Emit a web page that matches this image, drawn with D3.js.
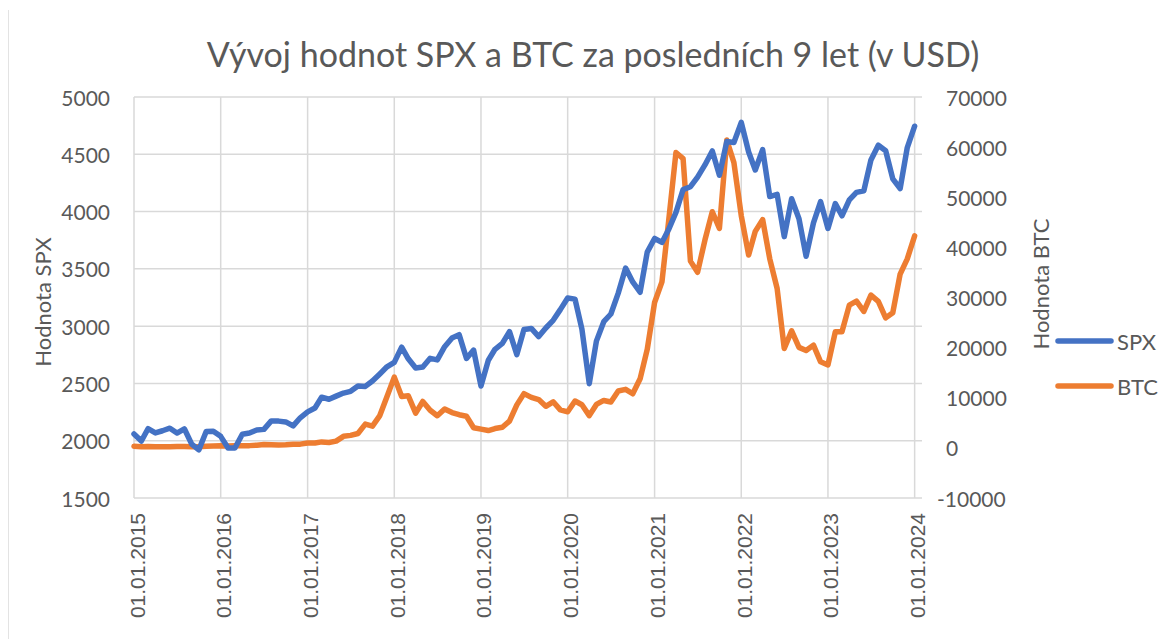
<!DOCTYPE html>
<html>
<head>
<meta charset="utf-8">
<script src="https://cdn.jsdelivr.net/npm/d3@7"></script>
<style>
  html, body { margin: 0; padding: 0; background: #fff; }
  svg { display: block; }
</style>
</head>
<body>
<svg id="chart" width="1168" height="639"></svg>
<script>
// ---------- DATA ----------
const title = "Vývoj hodnot SPX a BTC za posledních 9 let (v USD)";
const seriesNames = ["SPX", "BTC"];
const leftAxisTitle = "Hodnota SPX";
const rightAxisTitle = "Hodnota BTC";
const startMonth = "2015-01-01";
const endMonth = "2024-01-01";
const xTickLabels = ["01.01.2015","01.01.2016","01.01.2017","01.01.2018","01.01.2019","01.01.2020","01.01.2021","01.01.2022","01.01.2023","01.01.2024"];
const leftTicks = [1500, 2000, 2500, 3000, 3500, 4000, 4500, 5000];
const rightTicks = [-10000, 0, 10000, 20000, 30000, 40000, 50000, 60000, 70000];

// monthly values, Jan 2015 .. Jan 2024
const spx = [
  2059, 1997, 2105, 2068, 2087, 2109, 2067, 2104, 1970, 1920, 2081, 2083,
  2038, 1937, 1937, 2057, 2067, 2094, 2099, 2173, 2171, 2164, 2129, 2200,
  2252, 2286, 2380, 2362, 2389, 2416, 2431, 2477, 2474, 2521, 2583, 2645,
  2684, 2817, 2715, 2634, 2643, 2719, 2705, 2821, 2897, 2926, 2718, 2791,
  2477, 2702, 2798, 2849, 2952, 2752, 2971, 2980, 2909, 2984, 3051, 3144,
  3245, 3236, 2974, 2498, 2869, 3039, 3106, 3288, 3507, 3386, 3296, 3646,
  3765, 3731, 3843, 3993, 4192, 4217, 4301, 4407, 4529, 4317, 4611, 4603,
  4778, 4520, 4363, 4540, 4131, 4150, 3781, 4112, 3937, 3610, 3902, 4087,
  3853, 4070, 3963, 4102, 4167, 4181, 4451, 4579, 4531, 4285, 4201, 4559,
  4745
];
const btc = [
  320, 217, 254, 244, 236, 230, 264, 284, 230, 237, 314, 378,
  430, 369, 437, 417, 448, 531, 673, 624, 573, 609, 701, 746,
  964, 971, 1190, 1081, 1348, 2301, 2493, 2872, 4736, 4341, 6441, 10198,
  14112, 10238, 10385, 6926, 9251, 7500, 6411, 7769, 7044, 6619, 6318, 4024,
  3747, 3460, 3853, 4105, 5350, 8573, 10818, 10077, 9630, 8299, 9193, 7569,
  7194, 9350, 8599, 6438, 8672, 9463, 9145, 11351, 11679, 10796, 13781, 19633,
  28995, 33115, 45159, 58926, 57715, 37254, 35035, 41461, 47100, 43791, 61421, 56907,
  46312, 38482, 43194, 45539, 37714, 31792, 19820, 23336, 20050, 19431, 20495, 17168,
  16548, 23150, 23150, 28478, 29268, 27218, 30472, 29230, 25931, 26969, 34667, 37718,
  42280
];

// ---------- CHART ----------
const colors = { SPX: "#4472C4", BTC: "#ED7D31" };
const textColor = "#595959";
const gridColor = "#D9D9D9";

const svg = d3.select("#chart");
const parse = d3.utcParse("%Y-%m-%d");
const months = d3.utcMonth.range(parse(startMonth), d3.utcMonth.offset(parse(endMonth), 1));
const tickDates = d3.utcYear.range(parse(startMonth), d3.utcMonth.offset(parse(endMonth), 1));

const plot = { left: 134, right: 922, top: 97, bottom: 498 };

const x = d3.scaleUtc()
  .domain([parse(startMonth), d3.utcMonth.offset(parse(endMonth), 1)])
  .range([plot.left, plot.right]);
const yL = d3.scaleLinear().domain([1500, 5000]).range([plot.bottom, plot.top]);
const yR = d3.scaleLinear().domain([-10000, 70000]).range([plot.bottom, plot.top]);

// chart-area border (left edge visible in reference)
svg.append("line").attr("x1", 8.5).attr("x2", 8.5).attr("y1", 10).attr("y2", 639)
  .attr("stroke", "#E3E3E3").attr("stroke-width", 1);

// horizontal gridlines
svg.append("g").selectAll("line").data(leftTicks).join("line")
  .attr("x1", plot.left).attr("x2", plot.right)
  .attr("y1", d => yL(d)).attr("y2", d => yL(d))
  .attr("stroke", gridColor).attr("stroke-width", 1.5);

// vertical gridlines
svg.append("g").selectAll("line").data(tickDates).join("line")
  .attr("x1", d => x(d)).attr("x2", d => x(d))
  .attr("y1", plot.top).attr("y2", plot.bottom)
  .attr("stroke", gridColor).attr("stroke-width", 1.5);

// left axis labels
svg.append("g").selectAll("text").data(leftTicks).join("text")
  .attr("x", 110).attr("y", d => yL(d))
  .attr("text-anchor", "end").attr("dominant-baseline", "central")
  .attr("font-family", "Lato, 'Open Sans', sans-serif").attr("font-size", 21)
  .attr("fill", textColor)
  .text(d => d);

// right axis labels (digits left-aligned, minus hanging left)
const rg = svg.append("g");
rg.selectAll("text").data(rightTicks).join("text")
  .attr("x", 946).attr("y", d => yR(d))
  .attr("text-anchor", "start").attr("dominant-baseline", "central")
  .attr("font-family", "Lato, 'Open Sans', sans-serif").attr("font-size", 21)
  .attr("fill", textColor)
  .text(d => d)
  .each(function(d) {
    if (d < 0) d3.select(this).attr("x", 946 - 9);
  });

// x axis labels
svg.append("g").selectAll("text").data(tickDates).join("text")
  .attr("transform", (d) => `translate(${x(d) + 3},513) rotate(-90)`)
  .attr("text-anchor", "end").attr("dominant-baseline", "central")
  .attr("font-family", "'Liberation Sans', Arial, sans-serif").attr("font-size", 21)
  .attr("fill", textColor)
  .text((d, i) => xTickLabels[i]);

// axis titles
svg.append("text")
  .attr("transform", "translate(42,302) rotate(-90)")
  .attr("text-anchor", "middle").attr("dominant-baseline", "central")
  .attr("font-family", "Lato, 'Open Sans', sans-serif").attr("font-size", 22)
  .attr("fill", textColor).text(leftAxisTitle);
svg.append("text")
  .attr("transform", "translate(1040,284) rotate(-90)")
  .attr("text-anchor", "middle").attr("dominant-baseline", "central")
  .attr("font-family", "Lato, 'Open Sans', sans-serif").attr("font-size", 22)
  .attr("fill", textColor).text(rightAxisTitle);

// title
svg.append("text")
  .attr("x", 593).attr("y", 67)
  .attr("text-anchor", "middle")
  .attr("font-family", "Lato, 'Open Sans', sans-serif").attr("font-weight", 400)
  .attr("font-size", 34)
  .attr("fill", textColor).text(title);

// lines
const lineL = d3.line().x((d, i) => x(months[i])).y(d => yL(d));
const lineR = d3.line().x((d, i) => x(months[i])).y(d => yR(d));

svg.append("path").datum(btc).attr("d", lineR)
  .attr("fill", "none").attr("stroke", colors.BTC).attr("stroke-width", 5.5)
  .attr("stroke-linejoin", "round").attr("stroke-linecap", "round");
svg.append("path").datum(spx).attr("d", lineL)
  .attr("fill", "none").attr("stroke", colors.SPX).attr("stroke-width", 5.5)
  .attr("stroke-linejoin", "round").attr("stroke-linecap", "round");

// legend
const legendY = [341, 386];
const lg = svg.append("g").selectAll("g").data(seriesNames).join("g")
  .attr("transform", (d, i) => `translate(0,${legendY[i]})`);
lg.append("line").attr("x1", 1058).attr("x2", 1111).attr("y1", 0).attr("y2", 0)
  .attr("stroke", d => colors[d]).attr("stroke-width", 5.5).attr("stroke-linecap", "round");
lg.append("text").attr("x", 1117).attr("y", 0).attr("dominant-baseline", "central")
  .attr("font-family", "Lato, 'Open Sans', sans-serif").attr("font-size", 22)
  .attr("fill", textColor).text(d => d);
</script>
</body>
</html>
